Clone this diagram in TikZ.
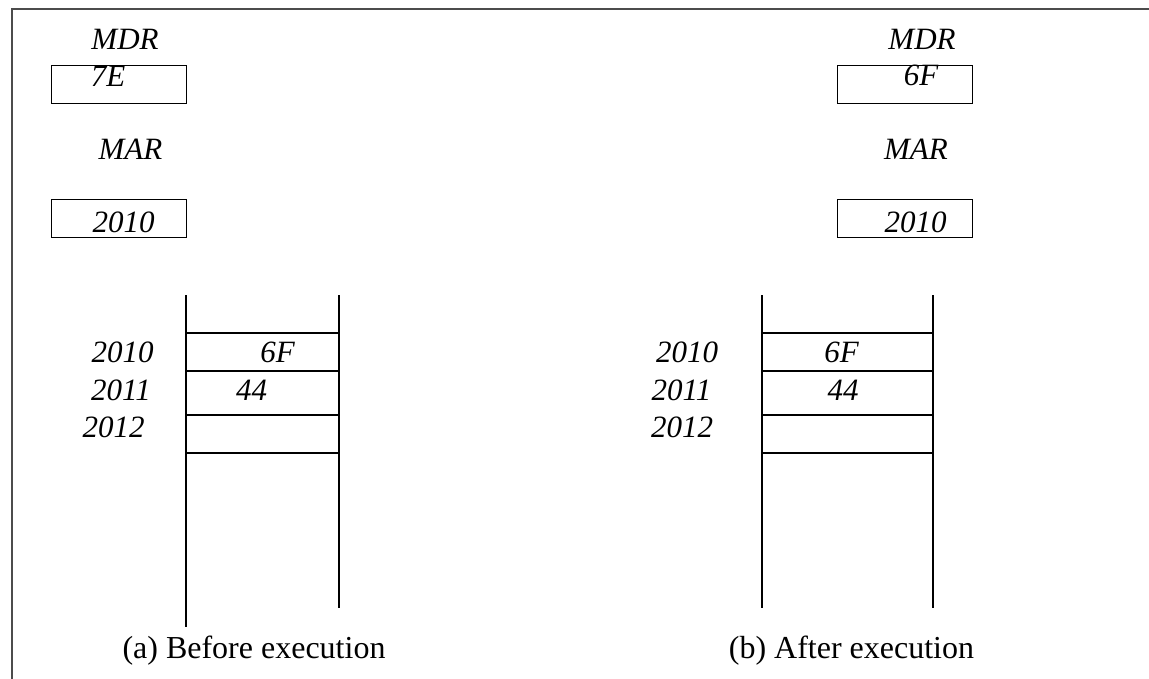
\documentclass[tikz,border=0pt]{standalone}
\usepackage{fontspec}
\setmainfont{Liberation Serif}
\begin{document}
\begin{tikzpicture}[x=1pt,y=-1pt,
  lbl/.style={inner sep=0pt,anchor=base,font=\fontsize{31}{31}\selectfont\itshape},
  captext/.style={inner sep=0pt,anchor=base,font=\fontsize{32}{32}\selectfont},
  reg/.style={draw,line width=1.3pt,inner sep=0pt,anchor=north west,minimum width=135pt,minimum height=38pt},
  stk/.style={line width=1.3pt},
  frameline/.style={line width=2.5pt,draw=black!70}]
\useasboundingbox (0,0) rectangle (1149,679);
\draw[frameline] (12,679) -- (12,9) -- (1149,9);
% ---------- (a) before ----------
\node[reg] (mdrA) at (51,65) {};
\node[reg] (marA) at (51,199) {};
\node[lbl] (mdrAl) at (125,50) {MDR};
\node[lbl] (mdrAv) at (108,87) {7E};
\node[lbl] (marAl) at (130.5,160) {MAR};
\node[lbl] (marAv) at (123.5,233) {2010};
\draw[stk] (186,295) -- (186,627);
\draw[stk] (339,295) -- (339,608);
\foreach \yy in {333,371,415,453} \draw[stk] (186,\yy) -- (339,\yy);
\node[lbl] (aA0) at (122.5,362) {2010};
\node[lbl] (aA1) at (121,400) {2011};
\node[lbl] (aA2) at (113.5,437) {2012};
\node[lbl] (vA0) at (277.5,362) {6F};
\node[lbl] (vA1) at (251.5,400) {44};
\node[captext] (capA) at (254,658) {(a) Before execution};
% ---------- (b) after ----------
\node[reg] (mdrB) at (837,65) {};
\node[reg] (marB) at (837,199) {};
\node[lbl] (mdrBl) at (922,50) {MDR};
\node[lbl] (mdrBv) at (921,86) {6F};
\node[lbl] (marBl) at (916,160) {MAR};
\node[lbl] (marBv) at (915.5,233) {2010};
\draw[stk] (762,295) -- (762,608);
\draw[stk] (933,295) -- (933,608);
\foreach \yy in {333,371,415,453} \draw[stk] (762,\yy) -- (933,\yy);
\node[lbl] (aB0) at (687,362) {2010};
\node[lbl] (aB1) at (681.5,400) {2011};
\node[lbl] (aB2) at (682,437) {2012};
\node[lbl] (vB0) at (841.5,362) {6F};
\node[lbl] (vB1) at (843,400) {44};
\node[captext] (capB) at (851.5,658) {(b) After execution};
\end{tikzpicture}
\end{document}
